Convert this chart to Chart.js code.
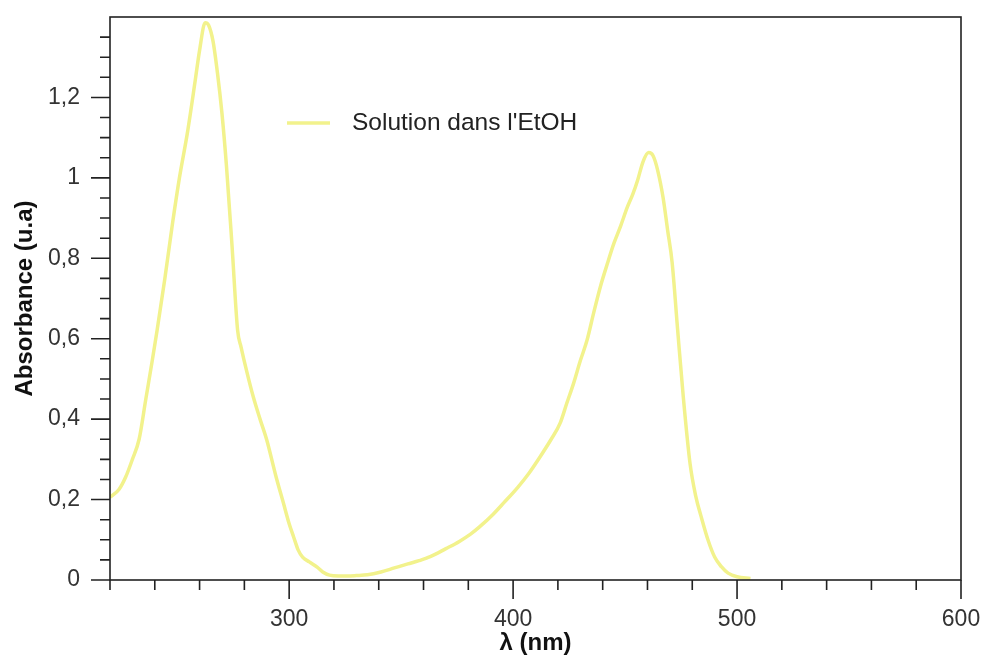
<!DOCTYPE html>
<html>
<head>
<meta charset="utf-8">
<script src="https://cdn.jsdelivr.net/npm/chart.js@4.4.0/dist/chart.umd.min.js"></script>
<style>
  body { margin: 0; background: #fff; }
  #wrap { width: 986px; height: 663px; }
</style>
</head>
<body>
<div id="wrap"><canvas id="chart"></canvas></div>
<script>
// wavelength (nm) and absorbance
const wavelength = [220, 224, 227, 230, 233, 236, 239, 241, 244.5, 248, 251, 254.5, 258, 260, 262.5, 264, 266, 268, 270, 272, 274.5, 277, 278.5, 281, 284, 287, 290, 294, 297.5, 300, 302, 304, 306, 309, 312.5, 315, 318, 322, 326, 330, 335, 341, 347, 353, 358, 363, 370, 376, 381, 385, 391, 396, 402, 407, 412, 417, 421, 424, 427, 430, 433, 436, 439, 442, 445, 448, 451, 453.5, 455.6, 458, 460.5, 462.5, 464.5, 467, 469, 471, 473.5, 476, 479, 481.5, 484, 487, 490, 493, 496, 500, 506];
const absorbance = [0.206, 0.225, 0.256, 0.30, 0.35, 0.45, 0.55, 0.62, 0.75, 0.89, 1.00, 1.11, 1.24, 1.317, 1.386, 1.38, 1.34, 1.26, 1.16, 1.03, 0.83, 0.62, 0.58, 0.52, 0.455, 0.40, 0.348, 0.26, 0.19, 0.14, 0.107, 0.075, 0.057, 0.045, 0.032, 0.02, 0.012, 0.01, 0.01, 0.011, 0.013, 0.02, 0.03, 0.04, 0.048, 0.058, 0.078, 0.096, 0.114, 0.132, 0.163, 0.193, 0.23, 0.265, 0.306, 0.35, 0.39, 0.44, 0.489, 0.545, 0.596, 0.665, 0.73, 0.785, 0.837, 0.88, 0.927, 0.96, 0.994, 1.04, 1.063, 1.055, 1.02, 0.95, 0.87, 0.79, 0.62, 0.455, 0.29, 0.21, 0.157, 0.10, 0.057, 0.033, 0.017, 0.008, 0.004];

const seriesLabel = "Solution dans l'EtOH";
const xTickLabels = { 300: "300", 400: "400", 500: "500", 600: "600" };
const yTickLabels = { 0: "0", 20: "0,2", 40: "0,4", 60: "0,6", 80: "0,8", 100: "1", 120: "1,2" };

const lineColor = "rgb(242,242,140)";
const axisColor = "#222";
const textColor = "#333";
const fontFamily = "'Liberation Sans', Arial, sans-serif";

// ticks of two lengths + frame around the plot + legend inside the plot
const frameAndTicks = {
  id: "frameAndTicks",
  afterDraw(chart) {
    const ctx = chart.ctx;
    const area = chart.chartArea;
    const xs = chart.scales.x;
    const ys = chart.scales.y;
    ctx.save();
    ctx.strokeStyle = axisColor;
    ctx.lineWidth = 1.6;
    ctx.strokeRect(area.left, area.top, area.right - area.left, area.bottom - area.top);

    ctx.beginPath();
    xs.ticks.forEach((t) => {
      const px = xs.getPixelForValue(t.value);
      const major = Math.round(t.value) % 100 === 0;
      ctx.moveTo(px, area.bottom);
      ctx.lineTo(px, area.bottom + (major ? 19 : 10));
    });
    ys.ticks.forEach((t) => {
      const py = ys.getPixelForValue(t.value);
      if (py <= area.top + 1) return;
      const major = Math.round(t.value * 100) % 20 === 0;
      ctx.moveTo(area.left, py);
      ctx.lineTo(area.left - (major ? 19 : 10), py);
    });
    ctx.stroke();

    // legend
    const ly = area.top + 106;
    const lx = area.left + 177;
    ctx.strokeStyle = lineColor;
    ctx.lineWidth = 3.5;
    ctx.beginPath();
    ctx.moveTo(lx, ly);
    ctx.lineTo(lx + 43, ly);
    ctx.stroke();
    ctx.fillStyle = "#222";
    ctx.font = "24.5px " + fontFamily;
    ctx.textBaseline = "middle";
    ctx.textAlign = "left";
    ctx.fillText(chart.data.datasets[0].label, lx + 65, ly);
    ctx.restore();
  },
};

new Chart(document.getElementById("chart"), {
  type: "line",
  data: {
    datasets: [
      {
        label: seriesLabel,
        data: wavelength.map((w, i) => ({ x: w, y: absorbance[i] })),
        borderColor: lineColor,
        borderWidth: 3.5,
        pointRadius: 0,
        cubicInterpolationMode: "monotone",
        fill: false,
      },
    ],
  },
  options: {
    responsive: true,
    maintainAspectRatio: false,
    animation: false,
    layout: { padding: { top: 17, right: 25, left: 0, bottom: 0 } },
    plugins: {
      legend: { display: false },
      tooltip: { enabled: false },
    },
    scales: {
      x: {
        type: "linear",
        min: 220,
        max: 600,
        afterFit: (scale) => { scale.height = 83; },
        grid: { drawOnChartArea: false, drawTicks: true, tickLength: 26, color: "transparent", tickColor: "transparent" },
        border: { display: false },
        ticks: {
          stepSize: 20,
          autoSkip: false,
          maxRotation: 0,
          padding: 0,
          color: textColor,
          font: { family: fontFamily, size: 23 },
          callback: (v) => xTickLabels[Math.round(v)] || "",
        },
        title: {
          display: true,
          text: "λ (nm)",
          color: "#111",
          font: { family: fontFamily, size: 24, weight: "bold" },
          padding: { top: 0, bottom: 5 },
        },
      },
      y: {
        min: 0,
        max: 1.4,
        afterFit: (scale) => { scale.width = 110; },
        grid: { drawOnChartArea: false, drawTicks: true, tickLength: 30, color: "transparent", tickColor: "transparent" },
        border: { display: false },
        ticks: {
          stepSize: 0.05,
          autoSkip: false,
          padding: 0,
          color: textColor,
          font: { family: fontFamily, size: 23 },
          callback: (v) => yTickLabels[Math.round(v * 100)] || "",
        },
        title: {
          display: true,
          text: "Absorbance (u.a)",
          color: "#111",
          font: { family: fontFamily, size: 24, weight: "bold" },
          padding: { top: 11, bottom: 0 },
        },
      },
    },
  },
  plugins: [frameAndTicks],
});
</script>
</body>
</html>
